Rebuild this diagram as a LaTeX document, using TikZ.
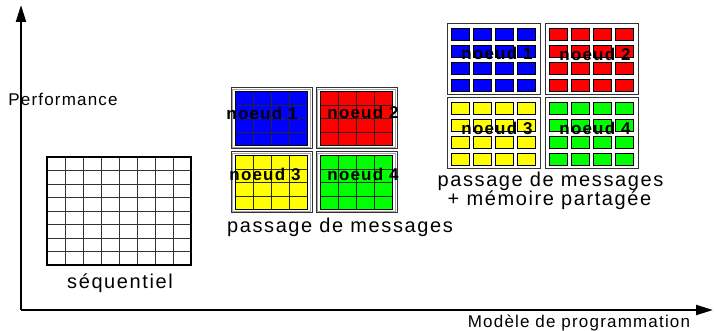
\documentclass[tikz,border=0pt]{standalone}
\usepackage{fontspec}
\setmainfont{Liberation Sans}
\newfontfamily\lsA{Liberation Sans}[LetterSpace=8]
\newfontfamily\lsB{Liberation Sans}[LetterSpace=7]
\newfontfamily\lsN{Liberation Sans}[LetterSpace=7]
\usetikzlibrary{arrows.meta}
\definecolor{cblue}{RGB}{0,0,255}
\definecolor{cred}{RGB}{255,0,0}
\definecolor{cyellow}{RGB}{255,255,0}
\definecolor{cgreen}{RGB}{0,255,0}
\tikzset{
  axis/.style={line width=2.2pt, -{Triangle[length=17pt,width=10pt]}},
  bigtext/.style={font=\lsA\fontsize{20}{20}\selectfont, inner sep=0pt, anchor=base},
  smalltext/.style={font=\lsB\fontsize{17}{18}\selectfont, inner sep=0pt, anchor=base},
  nodelabel/.style={font=\lsN\bfseries\fontsize{17}{17}\selectfont, inner sep=0pt},
  gridline/.style={draw=black!80, line width=0.9pt},
  frameout/.style={draw=black!80, line width=1pt},
  framein/.style={draw=black!35, line width=0.8pt},
  cell/.style={draw=black, line width=0.9pt},
}
\begin{document}
\begin{tikzpicture}[x=1pt,y=-1pt]
\useasboundingbox (0,0) rectangle (715,331);
% axes
\coordinate (O) at (21,310);
\coordinate (ytip) at (21,5);
\coordinate (xtip) at (713,310);
\draw[axis] (O) -- (ytip);
\draw[axis] (O) -- (xtip);
\node[smalltext] (perf) at (63,106) {Performance};
\node[smalltext] (model) at (579,327) {Modèle de programmation};

% sequential grid
\foreach \i in {1,...,7} {
  \draw[gridline] ({47+18*\i},157) -- ({47+18*\i},265);
  \draw[gridline] (47,{157+13.5*\i}) -- (191,{157+13.5*\i});
}
\draw[line width=1.3pt] (47,157) rectangle (191,265);
\node[bigtext] (seq) at (120,288) {séquentiel};

% message passing group
\foreach \x/\y/\c in {231/88/cblue, 316/88/cred, 231/152/cyellow, 316/152/cgreen} {
  \draw[frameout] (\x,\y) rectangle ({\x+81},{\y+61});
  \draw[framein] ({\x+1.8},{\y+1.8}) rectangle ({\x+79.2},{\y+59.2});
  \fill[\c] ({\x+4.5},{\y+3.5}) rectangle ({\x+76.5},{\y+57.5});
  \foreach \i in {1,2,3} {
    \draw[gridline, draw=black!85] ({\x+4.5+18*\i},{\y+3.5}) -- ({\x+4.5+18*\i},{\y+57.5});
    \draw[gridline, draw=black!85] ({\x+4.5},{\y+3.5+13.5*\i}) -- ({\x+76.5},{\y+3.5+13.5*\i});
  }
  \draw[line width=1.1pt] ({\x+4.5},{\y+3.5}) rectangle ({\x+76.5},{\y+57.5});
}
\node[nodelabel] (mp1) at (262,113) {noeud 1};
\node[nodelabel] (mp2) at (363,112) {noeud 2};
\node[nodelabel] (mp3) at (265,174) {noeud 3};
\node[nodelabel] (mp4) at (363,174) {noeud 4};
\node[bigtext] (mptext) at (340,232.5) {passage de messages};

% hybrid group
\foreach \x/\y/\c in {447/24/cblue, 545/24/cred, 447/98/cyellow, 545/98/cgreen} {
  \draw[frameout] (\x,\y) rectangle ({\x+93},{\y+71});
  \foreach \i in {0,1,2,3} {
    \foreach \j in {0,1,2,3} {
      \draw[cell, fill=\c] ({\x+4+22*\i},{\y+4.3+17*\j}) rectangle ({\x+22.5+22*\i},{\y+16.8+17*\j});
    }
  }
}
\node[nodelabel] (h1) at (497,53) {noeud 1};
\node[nodelabel] (h2) at (595,54) {noeud 2};
\node[nodelabel] (h3) at (497,128) {noeud 3};
\node[nodelabel] (h4) at (595,128) {noeud 4};
\node[bigtext] (htext1) at (550.5,186.5) {passage de messages};
\node[bigtext] (htext2) at (549.5,206) {+ mémoire partagée};
\end{tikzpicture}
\end{document}
